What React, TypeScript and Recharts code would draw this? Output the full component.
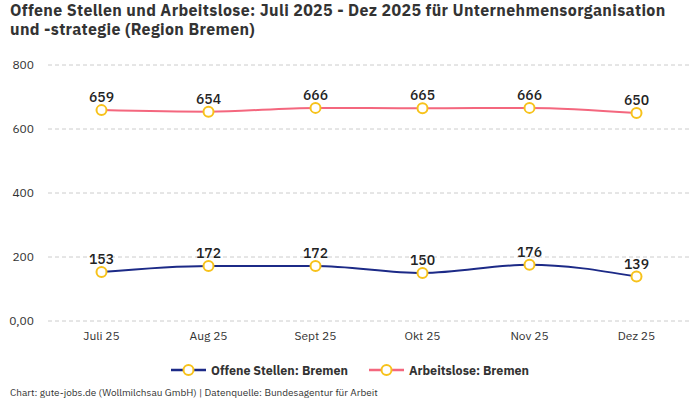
import React from 'react'
import { LineChart, Line, XAxis, YAxis, CartesianGrid, LabelList } from 'recharts'

const months = ['Juli 25', 'Aug 25', 'Sept 25', 'Okt 25', 'Nov 25', 'Dez 25']
const offeneStellen = [153, 172, 172, 150, 176, 139]
const arbeitslose = [659, 654, 666, 665, 666, 650]
const yTicks = [0, 200, 400, 600, 800]
const titleLines = [
  'Offene Stellen und Arbeitslose: Juli 2025 - Dez 2025 für Unternehmensorganisation',
  'und -strategie (Region Bremen)',
]

const series = [
  { key: 'offen', name: 'Offene Stellen: Bremen', color: '#1c2a87', values: offeneStellen },
  { key: 'arbeitslos', name: 'Arbeitslose: Bremen', color: '#f4677e', values: arbeitslose },
]

const data = months.map((m, i) => {
  const row: Record<string, string | number> = { month: m }
  series.forEach((s) => {
    row[s.key] = s.values[i]
  })
  return row
})

const FONT = '"IBM Plex Sans", Roboto, "Noto Sans", sans-serif'
const DOT = '#f7c21b'

function LegendIcon({ color }: { color: string }) {
  return (
    <svg width={35} height={12} style={{ marginRight: 5 }}>
      <line x1={0} y1={6} x2={35} y2={6} stroke={color} strokeWidth={2.5} />
      <circle cx={17.5} cy={6} r={5} fill="#fff" stroke={DOT} strokeWidth={2} />
    </svg>
  )
}

export default function App() {
  return (
    <div style={{ position: 'absolute', left: 0, top: 0, width: 700, height: 400, background: '#fff', fontFamily: FONT, color: '#333' }}>
      {titleLines.map((t, i) => (
        <div
          key={i}
          style={{
            position: 'absolute',
            left: 10,
            top: 1 + i * 19,
            whiteSpace: 'nowrap',
            fontSize: 16,
            letterSpacing: 0.35,
            fontWeight: 700,
            lineHeight: '19px',
            color: '#333',
          }}
        >
          {t}
        </div>
      ))}
      <LineChart width={700} height={400} data={data} margin={{ top: 65, right: 10, left: 0, bottom: 49 }}>
        <CartesianGrid vertical={false} stroke="#cccccc" strokeDasharray="4 3" />
        <XAxis
          dataKey="month"
          scale="band"
          axisLine={false}
          tickLine={false}
          height={30}
          tickMargin={4}
          tick={{ fontSize: 12, fill: '#333', fontFamily: FONT }}
        />
        <YAxis
          width={48}
          domain={[0, 800]}
          ticks={yTicks}
          axisLine={false}
          tickLine={false}
          tickMargin={8}
          tickFormatter={(v: number) => (v === 0 ? '0,00' : String(v))}
          tick={{ fontSize: 12, fill: '#333', fontFamily: FONT }}
        />
        {series.map((s) => (
          <Line
            key={s.key}
            type="monotone"
            dataKey={s.key}
            name={s.name}
            stroke={s.color}
            strokeWidth={2}
            dot={{ r: 5, fill: '#fff', stroke: DOT, strokeWidth: 2 }}
            activeDot={false}
            isAnimationActive={false}
          >
            <LabelList dataKey={s.key} position="top" offset={8} style={{ fontSize: 14, fontWeight: 500, fill: '#222', fontFamily: FONT }} />
          </Line>
        ))}
      </LineChart>
      <div style={{ position: 'absolute', left: 0, top: 362, width: 700, display: 'flex', justifyContent: 'center', fontSize: 12.5, fontWeight: 700, color: '#333' }}>
        {series.map((s, i) => (
          <div key={s.key} style={{ display: 'flex', alignItems: 'center', marginLeft: i ? 21 : 0 }}>
            <LegendIcon color={s.color} />
            <span>{s.name}</span>
          </div>
        ))}
      </div>
      <div style={{ position: 'absolute', left: 10, top: 386, fontSize: 10, color: '#333' }}>
        Chart: gute-jobs.de (Wollmilchsau GmbH) | Datenquelle: Bundesagentur für Arbeit
      </div>
    </div>
  )
}
